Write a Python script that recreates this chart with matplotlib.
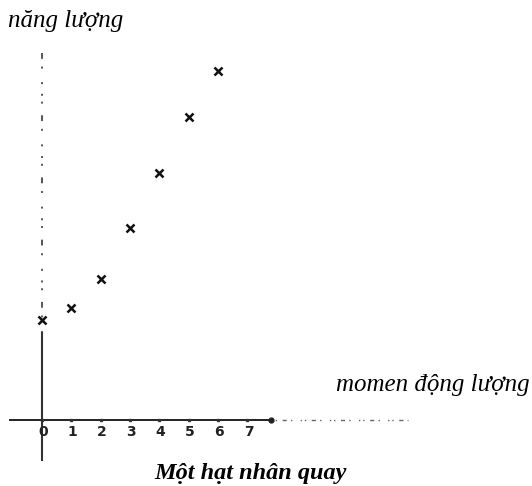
import matplotlib.pyplot as plt

# momen động lượng (J) và năng lượng (đơn vị tùy ý)
J = [0, 1, 2, 3, 4, 5, 6]
E = [100, 112, 141, 192, 247, 303, 349]
tick_pos = [0, 1, 2, 3, 4, 5, 6, 7]
tick_lab = ["0", "1", "2", "3", "4", "5", "6", "7"]

fig = plt.figure(figsize=(5.32, 4.86), dpi=100)
ax = fig.add_axes([0, 0, 1, 1])
ax.set_xlim(-42 / 29.3, (532 - 42) / 29.3)
ax.set_ylim(-66, 420)
ax.axis("off")

serif = ["Liberation Serif", "DejaVu Serif"]

# trục tung
ax.plot([0, 0], [87, 368], color="#555555", lw=1.4,
        ls=(0, (1, 7, 1, 4, 3, 6, 1, 3, 1, 5)))
ax.plot([0, 0], [-40, 87], color="#333333", lw=1.5)
# trục hoành
ax.plot([-1.1, 7.8], [0, 0], color="#222222", lw=1.4)
ax.plot([7.8, 12.5], [0, 0], color="#666666", lw=1.0,
        ls=(0, (1, 2, 1, 4, 3, 3, 1, 6)))
ax.plot([7.8], [0], "o", color="#222222", ms=3.5)

# vạch chia
ax.plot(tick_pos, [0] * len(tick_pos), "s", color="#333333", ms=2)
for p, lab in zip(tick_pos, tick_lab):
    ax.text(p + 0.05, -5, lab, ha="center", va="top", fontsize=10,
            fontweight="bold", color="#222222")

ax.plot(J, E, "x", color="#111111", ms=5.5, mew=1.8)

ax.text(-1.15, 388, "năng lượng", fontsize=18, style="italic",
        family=serif, va="bottom", ha="left")
ax.text(16.65, 35, "momen động lượng", fontsize=18, style="italic",
        family=serif, va="center", ha="right")
ax.text(7.1, -53, "Một hạt nhân quay", fontsize=17.5, style="italic",
        fontweight="bold", family=serif, va="center", ha="center")

fig.savefig("out.png", dpi=100)
